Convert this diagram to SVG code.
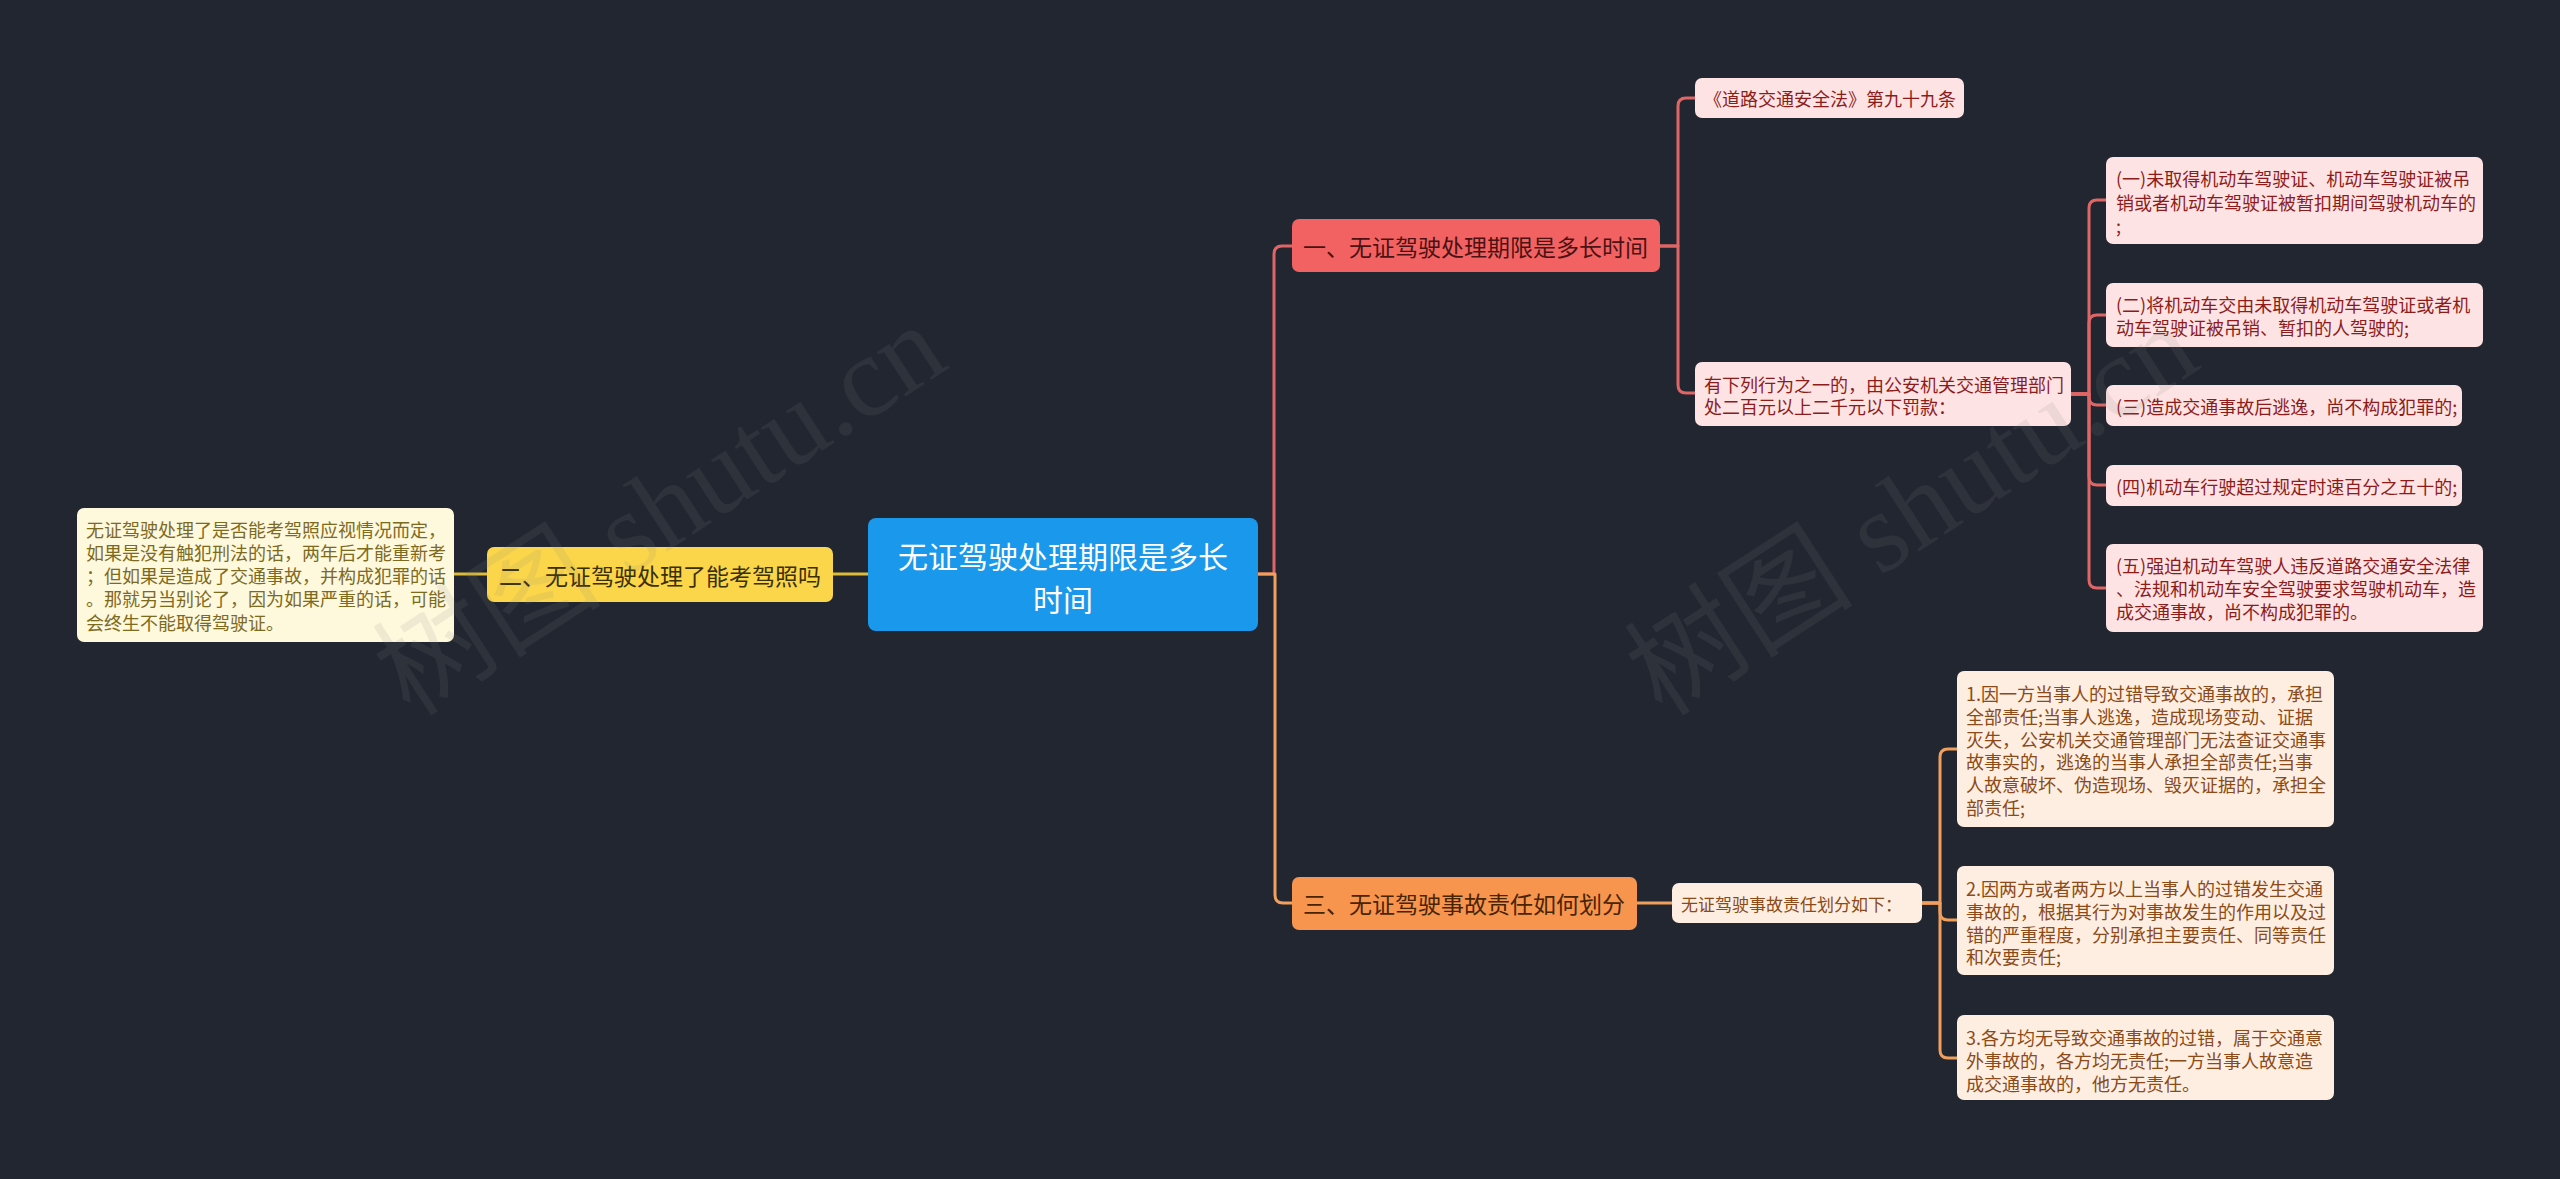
<svg xmlns="http://www.w3.org/2000/svg" width="2560" height="1179" viewBox="0 0 2560 1179">
<style>
text{font-family:"Noto Sans CJK SC","Noto Sans",sans-serif;dominant-baseline:central}
.c{fill:none;stroke-width:3;stroke-linecap:round;stroke-linejoin:round}
.cr{stroke:#e06666}.co{stroke:#f0a05c}.cy{stroke:#dcbc38}
.root rect{fill:#1a98ec}.root text{fill:#ffffff;font-size:30px;text-anchor:middle}
.b1 rect{fill:#f36262}.b1 text{fill:#4a1212;font-size:23px}
.b2 rect{fill:#fcd64a}.b2 text{fill:#3a2f00;font-size:23px}
.b3 rect{fill:#f7954f}.b3 text{fill:#4a2300;font-size:23px}
.r rect{fill:#fde3e3}.r text{fill:#8c1c1c;font-size:18px}
.o rect{fill:#fdeee1}.o text{fill:#8b4a17;font-size:18px}
.y rect{fill:#fef8dc}.y text{fill:#7d6a1e;font-size:18px}
.wm{font-family:"Liberation Serif","Noto Sans CJK SC",serif;font-size:115px;fill:#808080;fill-opacity:0.13;text-anchor:middle}
</style>
<rect width="2560" height="1179" fill="#222630"/>
<g id="connectors">
<path class="c cr" d="M1258,574 H1274 V254 Q1274,246 1282,246 H1292"/>
<path class="c co" d="M1258,574 H1275 V895 Q1275,903 1283,903 H1292"/>
<path class="c cy" d="M868,574 H833"/>
<path class="c cy" d="M487,574 H454"/>
<path class="c cr" d="M1660,246 H1678 V106 Q1678,98 1686,98 H1695"/>
<path class="c cr" d="M1660,246 H1678 V385 Q1678,393 1686,393 H1695"/>
<path class="c cr" d="M2071,394 H2089 V208 Q2089,200 2097,200 H2106"/>
<path class="c cr" d="M2071,394 H2089 V323 Q2089,315 2097,315 H2106"/>
<path class="c cr" d="M2071,394 H2089 V397 Q2089,405 2097,405 H2106"/>
<path class="c cr" d="M2071,394 H2089 V477 Q2089,485 2097,485 H2106"/>
<path class="c cr" d="M2071,394 H2089 V580 Q2089,588 2097,588 H2106"/>
<path class="c co" d="M1637,903 H1672"/>
<path class="c co" d="M1922,903 H1940 V757 Q1940,749 1948,749 H1957"/>
<path class="c co" d="M1922,903 H1940 V912 Q1940,920 1948,920 H1957"/>
<path class="c co" d="M1922,903 H1940 V1050 Q1940,1058 1948,1058 H1957"/>
</g>
<g id="root" class="root"><rect x="868" y="518" width="390" height="113" rx="8"/><text x="1063" y="555">无证驾驶处理期限是多长</text><text x="1063" y="598">时间</text></g>
<g id="b2" class="b2"><rect x="487" y="547" width="346" height="55" rx="7"/><text x="499" y="575">二、无证驾驶处理了能考驾照吗</text></g>
<g id="b2c1" class="y"><rect x="77" y="508" width="377" height="134" rx="7"/>
<text x="86" y="528.5">无证驾驶处理了是否能考驾照应视情况而定，</text>
<text x="86" y="551.8">如果是没有触犯刑法的话，两年后才能重新考</text>
<text x="86" y="575">；但如果是造成了交通事故，并构成犯罪的话</text>
<text x="86" y="598.3">。那就另当别论了，因为如果严重的话，可能</text>
<text x="86" y="621.6">会终生不能取得驾驶证。</text></g>
<g id="b1" class="b1"><rect x="1292" y="219" width="368" height="53" rx="7"/><text x="1303" y="246">一、无证驾驶处理期限是多长时间</text></g>
<g id="b1c1" class="r"><rect x="1695" y="78" width="269" height="40" rx="7"/><text x="1704" y="98">《道路交通安全法》第九十九条</text></g>
<g id="b1c2" class="r"><rect x="1695" y="362" width="376" height="64" rx="7"/><text x="1704" y="384">有下列行为之一的，由公安机关交通管理部门</text><text x="1704" y="406">处二百元以上二千元以下罚款：</text></g>
<g id="b1c2a" class="r"><rect x="2106" y="157" width="377" height="87" rx="7"/><text x="2116" y="178">(一)未取得机动车驾驶证、机动车驾驶证被吊</text><text x="2116" y="201.5">销或者机动车驾驶证被暂扣期间驾驶机动车的</text><text x="2116" y="225">;</text></g>
<g id="b1c2b" class="r"><rect x="2106" y="283" width="377" height="64" rx="7"/><text x="2116" y="304">(二)将机动车交由未取得机动车驾驶证或者机</text><text x="2116" y="327">动车驾驶证被吊销、暂扣的人驾驶的;</text></g>
<g id="b1c2c" class="r"><rect x="2106" y="385" width="356" height="41" rx="7"/><text x="2116" y="405.5">(三)造成交通事故后逃逸，尚不构成犯罪的;</text></g>
<g id="b1c2d" class="r"><rect x="2106" y="465" width="356" height="41" rx="7"/><text x="2116" y="485.5">(四)机动车行驶超过规定时速百分之五十的;</text></g>
<g id="b1c2e" class="r"><rect x="2106" y="544" width="377" height="88" rx="7"/><text x="2116" y="565">(五)强迫机动车驾驶人违反道路交通安全法律</text><text x="2116" y="588">、法规和机动车安全驾驶要求驾驶机动车，造</text><text x="2116" y="611">成交通事故，尚不构成犯罪的。</text></g>
<g id="b3" class="b3"><rect x="1292" y="877" width="345" height="53" rx="7"/><text x="1303" y="903">三、无证驾驶事故责任如何划分</text></g>
<g id="b3c1" class="o"><rect x="1672" y="883" width="250" height="40" rx="7"/><text x="1681" y="903" style="font-size:17px">无证驾驶事故责任划分如下：</text></g>
<g id="b3c1a" class="o"><rect x="1957" y="671" width="377" height="156" rx="7"/>
<text x="1966" y="693">1.因一方当事人的过错导致交通事故的，承担</text>
<text x="1966" y="715.8">全部责任;当事人逃逸，造成现场变动、证据</text>
<text x="1966" y="738.6">灭失，公安机关交通管理部门无法查证交通事</text>
<text x="1966" y="761.4">故事实的，逃逸的当事人承担全部责任;当事</text>
<text x="1966" y="784.2">人故意破坏、伪造现场、毁灭证据的，承担全</text>
<text x="1966" y="807">部责任;</text></g>
<g id="b3c1b" class="o"><rect x="1957" y="866" width="377" height="109" rx="7"/>
<text x="1966" y="888">2.因两方或者两方以上当事人的过错发生交通</text>
<text x="1966" y="910.8">事故的，根据其行为对事故发生的作用以及过</text>
<text x="1966" y="933.6">错的严重程度，分别承担主要责任、同等责任</text>
<text x="1966" y="956.4">和次要责任;</text></g>
<g id="b3c1c" class="o"><rect x="1957" y="1015" width="377" height="85" rx="7"/>
<text x="1966" y="1037">3.各方均无导致交通事故的过错，属于交通意</text>
<text x="1966" y="1059.8">外事故的，各方均无责任;一方当事人故意造</text>
<text x="1966" y="1082.6">成交通事故的，他方无责任。</text></g>
<g id="watermarks">
<text class="wm" x="660" y="510" transform="rotate(-33 660 510)">树图 shutu.cn</text>
<text class="wm" x="1912" y="510" transform="rotate(-33 1912 510)">树图 shutu.cn</text>
</g>
</svg>
